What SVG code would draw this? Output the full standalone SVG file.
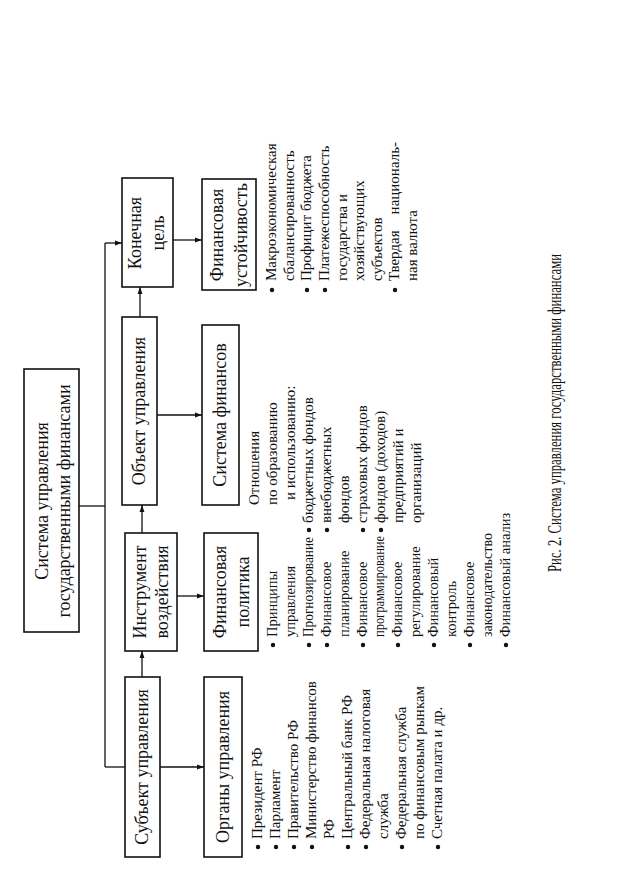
<svg xmlns="http://www.w3.org/2000/svg" width="623" height="871" viewBox="0 0 623 871" xml:space="preserve">
<defs>
<style>
.box{fill:#fff;stroke:#111;stroke-width:1.6}
.ln{fill:none;stroke:#111;stroke-width:1.3}
.t{font-family:"Liberation Serif","Times New Roman",serif;font-size:18px;fill:#111;text-anchor:middle}
.b{font-family:"Liberation Serif","Times New Roman",serif;font-size:15px;fill:#111}
.p{font-family:"Liberation Serif","Times New Roman",serif;font-size:14.5px;fill:#111}
.cap{font-family:"Liberation Serif","Times New Roman",serif;font-size:18px;fill:#111;text-anchor:middle}
.dot{fill:#111}
</style>
<marker id="ah" viewBox="0 0 10 10" refX="10" refY="5" markerWidth="7" markerHeight="7" orient="auto" markerUnits="userSpaceOnUse">
<path d="M0,1.5 L10,5 L0,8.5 Z" fill="#111"/>
</marker>
</defs>
<rect width="623" height="871" fill="#fff"/>
<g transform="translate(0,871) rotate(-90)">
<g id="connectors">
<path class="ln" d="M104,105 L628,105"/>
<path class="ln" d="M365,79 L365,105"/>
<path class="ln" d="M104,105 L104,125"/>
<path class="ln" d="M628,105 L628,122" marker-end="url(#ah)"/>
<path class="ln" d="M104,160 L104,204" marker-end="url(#ah)"/>
<path class="ln" d="M194,142 L220,142" marker-end="url(#ah)"/>
<path class="ln" d="M275,177 L275,204" marker-end="url(#ah)"/>
<path class="ln" d="M338,142 L366,142" marker-end="url(#ah)"/>
<path class="ln" d="M456,157 L456,202" marker-end="url(#ah)"/>
<path class="ln" d="M554,140 L584,140" marker-end="url(#ah)"/>
<path class="ln" d="M631,173 L631,202" marker-end="url(#ah)"/>
</g>
<g id="title">
<rect class="box" x="239" y="24" width="263" height="55"/>
<text class="t" x="370" y="48">Система  управления</text>
<text class="t" x="370" y="70">государственными  финансами</text>
</g>
<g id="subject">
<rect class="box" x="14" y="125" width="180" height="35"/>
<text class="t" x="104" y="148">Субъект  управления</text>
</g>
<g id="organs">
<rect class="box" x="14" y="204" width="180" height="38"/>
<text class="t" x="104" y="229">Органы управления</text>
</g>
<g id="instrument">
<rect class="box" x="220" y="125" width="118" height="52"/>
<text class="t" x="279" y="146">Инструмент</text>
<text class="t" x="279" y="168">воздействия</text>
</g>
<g id="policy">
<rect class="box" x="220" y="204" width="118" height="54"/>
<text class="t" x="279" y="226">Финансовая</text>
<text class="t" x="279" y="249">политика</text>
</g>
<g id="object">
<rect class="box" x="366" y="122" width="188" height="35"/>
<text class="t" x="460" y="145">Объект  управления</text>
</g>
<g id="finsystem">
<rect class="box" x="366" y="202" width="180" height="37"/>
<text class="t" x="456" y="226">Система финансов</text>
</g>
<g id="goal">
<rect class="box" x="584" y="122" width="109" height="51"/>
<text class="t" x="638" y="141">Конечная</text>
<text class="t" x="638" y="164">цель</text>
</g>
<g id="stability">
<rect class="box" x="581" y="202" width="111" height="54"/>
<text class="t" x="636" y="223">Финансовая</text>
<text class="t" x="636" y="247">устойчивость</text>
</g>
<g id="organs-list">
<circle class="dot" cx="24" cy="258" r="2.2"/>
<text class="b" x="32" y="262">Президент РФ</text>
<circle class="dot" cx="24" cy="276" r="2.2"/>
<text class="b" x="32" y="280">Парламент</text>
<circle class="dot" cx="24" cy="294" r="2.2"/>
<text class="b" x="32" y="298">Правительство РФ</text>
<circle class="dot" cx="24" cy="312" r="2.2"/>
<text class="b" x="32" y="316">Министерство финансов</text>
<text class="b" x="32" y="334">РФ</text>
<circle class="dot" cx="24" cy="348" r="2.2"/>
<text class="b" x="32" y="352">Центральный банк РФ</text>
<circle class="dot" cx="24" cy="366" r="2.2"/>
<text class="b" x="32" y="370">Федеральная  налоговая</text>
<text class="b" x="32" y="388">служба</text>
<circle class="dot" cx="24" cy="402" r="2.2"/>
<text class="b" x="32" y="406">Федеральная служба</text>
<text class="b" x="32" y="424">по финансовым  рынкам</text>
<circle class="dot" cx="24" cy="438" r="2.2"/>
<text class="b" x="32" y="442">Счетная  палата  и др.</text>
</g>
<g id="policy-list">
<circle class="dot" cx="226" cy="273" r="2.2"/>
<text class="p" x="234" y="277">Принципы</text>
<text class="p" x="234" y="295">управления</text>
<circle class="dot" cx="226" cy="309" r="2.2"/>
<text class="p" x="234" y="313" textLength="100" lengthAdjust="spacingAndGlyphs">Прогнозирование</text>
<circle class="dot" cx="226" cy="327" r="2.2"/>
<text class="p" x="234" y="331">Финансовое</text>
<text class="p" x="234" y="349">планирование</text>
<circle class="dot" cx="226" cy="363" r="2.2"/>
<text class="p" x="234" y="367">Финансовое</text>
<text class="p" x="234" y="384" textLength="101" lengthAdjust="spacingAndGlyphs">программирование</text>
<circle class="dot" cx="226" cy="398" r="2.2"/>
<text class="p" x="234" y="402">Финансовое</text>
<text class="p" x="234" y="420">регулирование</text>
<circle class="dot" cx="226" cy="434" r="2.2"/>
<text class="p" x="234" y="438">Финансовый</text>
<text class="p" x="234" y="456">контроль</text>
<circle class="dot" cx="226" cy="470" r="2.2"/>
<text class="p" x="234" y="474">Финансовое</text>
<text class="p" x="234" y="492" textLength="104" lengthAdjust="spacingAndGlyphs">законодательство</text>
<circle class="dot" cx="226" cy="506" r="2.2"/>
<text class="p" x="234" y="510">Финансовый  анализ</text>
</g>
<g id="finsystem-list">
<text class="b" x="366" y="259">Отношения</text>
<text class="b" x="366" y="277">по  образованию</text>
<text class="b" x="371" y="295">и  использованию:</text>
<circle class="dot" cx="341" cy="309" r="2.2"/>
<text class="b" x="348" y="313">бюджетных  фондов</text>
<circle class="dot" cx="341" cy="327" r="2.2"/>
<text class="b" x="348" y="331">внебюджетных</text>
<text class="b" x="348" y="349">фондов</text>
<circle class="dot" cx="341" cy="363" r="2.2"/>
<text class="b" x="348" y="367">страховых фондов</text>
<circle class="dot" cx="341" cy="381" r="2.2"/>
<text class="b" x="348" y="385">фондов (доходов)</text>
<text class="b" x="348" y="403">предприятий и</text>
<text class="b" x="348" y="421">организаций</text>
</g>
<g id="goal-list">
<circle class="dot" cx="581" cy="272" r="2.2"/>
<text class="b" x="590" y="276">Макроэкономическая</text>
<text class="b" x="590" y="294">сбалансированность</text>
<circle class="dot" cx="581" cy="307" r="2.2"/>
<text class="b" x="590" y="311">Профицит  бюджета</text>
<circle class="dot" cx="581" cy="325" r="2.2"/>
<text class="b" x="590" y="329">Платежеспособность</text>
<text class="b" x="590" y="347">государства и</text>
<text class="b" x="590" y="364">хозяйствующих</text>
<text class="b" x="590" y="382">субъектов</text>
<circle class="dot" cx="581" cy="395" r="2.2"/>
<text class="b" x="590" y="399">Твердая</text>
<text class="b" x="729" y="399" text-anchor="end">националь-</text>
<text class="b" x="590" y="417">ная  валюта</text>
</g>
<text class="cap" x="458" y="561" textLength="318" lengthAdjust="spacingAndGlyphs">Рис. 2. Система управления государственными финансами</text>
</g>
</svg>
